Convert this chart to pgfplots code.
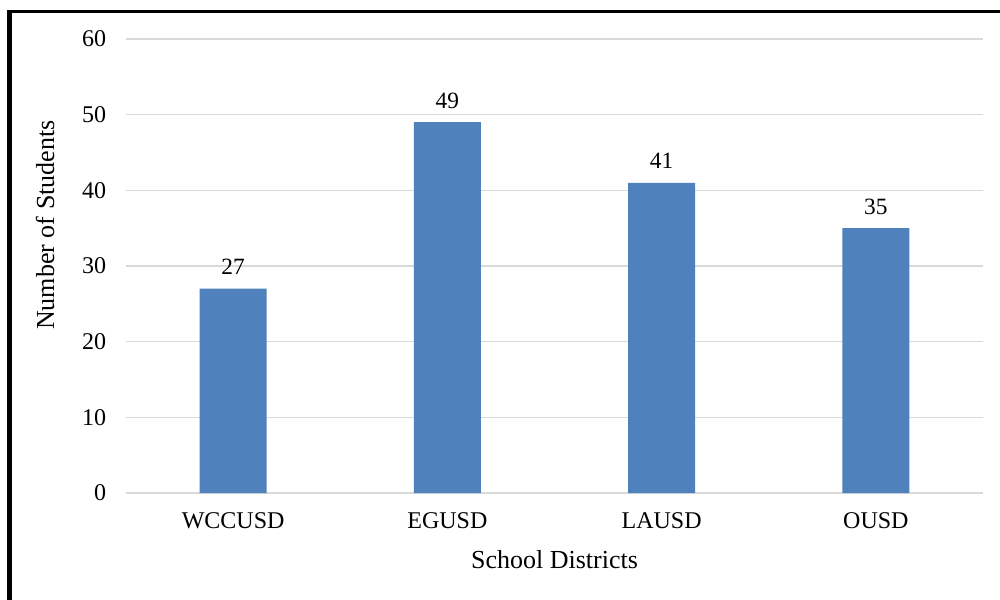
\documentclass[border=0pt]{standalone}
\usepackage{fontspec}
\setmainfont{Liberation Serif}
\usepackage{pgfplots}
\pgfplotsset{compat=1.18}
\definecolor{barblue}{HTML}{4F81BD}
\definecolor{gridgray}{HTML}{D9D9D9}
\begin{document}
\fontsize{17pt}{20pt}\selectfont
\begin{tikzpicture}
\useasboundingbox[fill=white] (0pt,0pt) rectangle (750pt,450pt);
\draw[line width=3.75pt] (7.125pt,0pt) -- (7.125pt,441.5pt);
\draw[line width=2pt] (5.25pt,441.5pt) -- (750pt,441.5pt);
\begin{axis}[
  at={(94.5pt,80.25pt)}, anchor=south west,
  scale only axis, width=642.75pt, height=340.5pt,
  xmin=-0.5, xmax=3.5, ymin=0, ymax=60,
  ybar, bar width=0.313,
  bar shift=0pt,
  xtick=data, xticklabels={WCCUSD,EGUSD,LAUSD,OUSD},
  ytick={0,10,...,60},
  ymajorgrids, major grid style={gridgray, line width=0.9pt},
  axis x line*=bottom, axis y line*=left,
  x axis line style={gridgray, line width=0.9pt, -},
  y axis line style={draw=none},
  major tick length=0pt,
  tick style={draw=none},
  /pgf/number format/assume math mode=true,
  ticklabel style={font=\fontsize{18pt}{21pt}\selectfont},
  yticklabel style={xshift=-9pt},
  xticklabel style={yshift=-9pt},
  ylabel={Number of Students},
  xlabel={School Districts},
  ylabel style={at={(axis description cs:-0.0945,0.59)}, anchor=center},
  xlabel style={at={(axis description cs:0.5,-0.1476)}, anchor=center},
  label style={font=\fontsize{19.5pt}{23pt}\selectfont},
  nodes near coords,
  nodes near coords style={font=\fontsize{17.5pt}{20pt}\selectfont, yshift=4.5pt, /pgf/number format/assume math mode=true},
  clip=false,
]
\addplot[fill=barblue, draw=none] coordinates {(0,27) (1,49) (2,41) (3,35)};
\end{axis}
\end{tikzpicture}
\end{document}
